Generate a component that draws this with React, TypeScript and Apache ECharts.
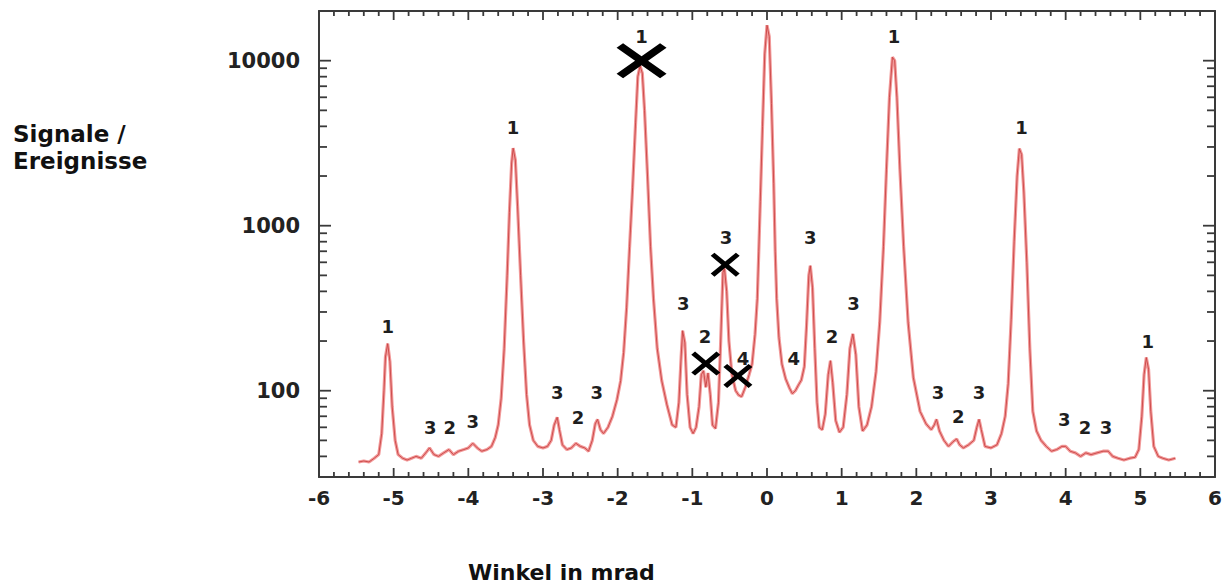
import React, { useEffect, useRef } from "react";
import * as echarts from "echarts";

// ---- data ----
const angleMrad = [
  -5.47, -5.4, -5.33, -5.26, -5.2, -5.16, -5.13, -5.11, -5.08, -5.05, -5.02, -4.98, -4.94, -4.88, -4.82, -4.76, -4.7,
  -4.63, -4.57, -4.52, -4.46, -4.4, -4.33, -4.26, -4.2, -4.13, -4.06, -4.0, -3.94, -3.88, -3.82, -3.75, -3.69, -3.64,
  -3.6, -3.56, -3.52, -3.48, -3.45, -3.42, -3.4, -3.37, -3.34, -3.3, -3.26, -3.22, -3.18, -3.13, -3.07, -3.0, -2.94,
  -2.89, -2.85, -2.81, -2.78, -2.74, -2.68, -2.62, -2.56, -2.5, -2.44, -2.39, -2.34, -2.3, -2.27, -2.23, -2.19, -2.13,
  -2.07, -2.01, -1.96, -1.92, -1.88, -1.84, -1.8, -1.76, -1.73, -1.7, -1.67, -1.64, -1.6, -1.56, -1.52, -1.47, -1.41,
  -1.34, -1.27, -1.22, -1.18, -1.15, -1.13, -1.1, -1.07, -1.03, -0.99, -0.95, -0.91, -0.88, -0.85, -0.82, -0.79, -0.76,
  -0.73, -0.69, -0.65, -0.62, -0.59, -0.57, -0.54, -0.51, -0.47, -0.42, -0.38, -0.34, -0.29, -0.24, -0.2, -0.16, -0.13,
  -0.11, -0.09, -0.06, -0.03, 0.0, 0.03, 0.06, 0.09, 0.11, 0.13, 0.16, 0.2, 0.25, 0.3, 0.34, 0.38, 0.42, 0.46, 0.5, 0.53,
  0.56, 0.58, 0.61, 0.64, 0.67, 0.7, 0.74, 0.78, 0.82, 0.85, 0.88, 0.92, 0.97, 1.02, 1.07, 1.11, 1.15, 1.19, 1.23, 1.28,
  1.34, 1.4, 1.46, 1.51, 1.56, 1.6, 1.64, 1.68, 1.71, 1.74, 1.78, 1.83, 1.89, 1.96, 2.05, 2.13, 2.2, 2.24, 2.27, 2.31,
  2.37, 2.43, 2.49, 2.54, 2.58, 2.63, 2.7, 2.77, 2.81, 2.84, 2.87, 2.92, 3.0, 3.08, 3.14, 3.19, 3.23, 3.27, 3.31, 3.35,
  3.38, 3.41, 3.44, 3.48, 3.52, 3.56, 3.61, 3.67, 3.74, 3.81, 3.88, 3.95, 4.0, 4.06, 4.13, 4.2, 4.27, 4.34, 4.42, 4.5,
  4.57, 4.63, 4.7, 4.78, 4.86, 4.93, 4.98, 5.02, 5.05, 5.08, 5.11, 5.14, 5.18, 5.24, 5.3, 5.38, 5.47,
];
const signal = [
  37, 37.5, 37, 39, 41, 55, 100, 160, 193, 150, 80, 50, 41, 39, 38, 39, 40,
  39, 42, 45, 41, 40, 42, 44, 41, 43, 44, 45, 48, 45, 43, 44, 46, 52,
  62, 90, 180, 500, 1200, 2400, 2950, 2500, 1300, 500, 200, 95, 62, 50, 46, 45, 46,
  50, 62, 69, 58, 47, 44, 45, 48, 46, 45, 43, 50, 63, 67, 58, 55, 60,
  70, 88, 115, 170, 320, 750, 1700, 4200, 8000, 9300, 8400, 5000, 2000, 750, 360, 180, 115,
  82, 62, 60, 85, 160, 231, 195, 95, 60, 55, 60, 80, 125, 132, 105, 128, 95,
  62, 59, 85, 200, 520, 550, 400, 200, 125, 100, 94, 92, 105, 125, 145, 220, 360,
  700, 1400, 4000, 11000, 16400, 14000, 5500, 1800, 700, 360, 210, 145, 118, 104, 96, 100, 108, 116, 140, 250,
  500, 572, 420, 180, 85, 60, 58, 72, 125, 152, 112, 66, 56, 60, 95, 180, 221, 165, 80, 57,
  62, 80, 130, 260, 750, 2200, 6000, 10500, 10000, 6000, 2200, 750, 260, 120, 75, 63, 58, 62, 67, 57,
  50, 46, 49, 51, 47, 45, 47, 50, 60, 67, 58, 46, 45, 47, 55, 70, 110, 270, 800, 2000,
  2930, 2700, 1600, 600, 180, 75, 57, 50, 46, 43, 44, 46, 46, 43, 42, 40, 42, 41, 42, 43,
  43, 40, 39, 38, 39, 39.5, 44, 70, 125, 159, 135, 75, 46, 40, 39, 38, 39,
];

// peak order labels
const peakLabelX = [-5.08, -4.51, -4.25, -3.94, -3.4, -2.81, -2.53, -2.28, -1.68, -1.12, -0.83, -0.55, -0.32, 0.36, 0.58, 0.87, 1.16, 1.7, 2.29, 2.56, 2.84, 3.41, 3.98, 4.26, 4.54, 5.1];
const peakLabelY = [245, 60, 60, 65, 3950, 97, 69, 97, 13970, 340, 212, 846, 156, 156, 846, 212, 337, 13970, 97, 70, 97, 3920, 67, 60, 60, 198];
const peakLabelText = ["1", "3", "2", "3", "1", "3", "2", "3", "1", "3", "2", "3", "4", "4", "3", "2", "3", "1", "3", "2", "3", "1", "3", "2", "3", "1"];

// crossed-out peaks
const crossX = [-1.68, -0.56, -0.82, -0.39];
const crossY = [10000, 580, 146, 123];

// axes
const xMin = -6;
const xMax = 6;
const xStep = 1;
const xMinorStep = 0.2;
const yMin = 30;
const yMax = 20000;
const yMajorTicks = [100, 1000, 10000];
const yMinorTicks = [40, 50, 60, 70, 80, 90, 200, 300, 400, 500, 600, 700, 800, 900, 2000, 3000, 4000, 5000, 6000, 7000, 8000, 9000];
const yAxisTitle = ["Signale /", "Ereignisse"];
const xAxisTitle = "Winkel in mrad";

const FONT = "DejaVu Sans";
const AXIS_COLOR = "#3a3a3a";
const CROSS_PATH =
  "path://M0,1.3 L1.3,0 L5,3.7 L8.7,0 L10,1.3 L6.3,5 L10,8.7 L8.7,10 L5,6.3 L1.3,10 L0,8.7 L3.7,5 Z";

export default function App() {
  const ref = useRef<HTMLDivElement>(null);

  useEffect(() => {
    if (!ref.current) return;
    const chart = echarts.init(ref.current, undefined, { renderer: "svg" });
    const curve = angleMrad.map((x, i) => [x, signal[i]]);
    const labels = peakLabelX.map((x, i) => [x, peakLabelY[i], peakLabelText[i]]);
    const crosses = crossX.map((x, i) => [x, crossY[i]]);

    // tick rows: [x, y, kind]  kind 0 = y major, 1 = y minor, 2 = x major, 3 = x minor
    const tickRows: number[][] = [];
    yMajorTicks.forEach((v) => tickRows.push([xMin, v, 0]));
    yMinorTicks.forEach((v) => tickRows.push([xMin, v, 1]));
    const nX = Math.round((xMax - xMin) / xMinorStep);
    for (let k = 1; k < nX; k++) {
      const v = Math.round((xMin + k * xMinorStep) * 10) / 10;
      const isMajor = Math.abs(v / xStep - Math.round(v / xStep)) < 1e-6;
      tickRows.push([v, yMin, isMajor ? 2 : 3]);
    }
    const tickLen = [12, 8, 9, 5];

    const xAxisBase = {
      type: "value",
      min: xMin,
      max: xMax,
      interval: xStep,
      splitLine: { show: false },
      axisLine: { show: true, onZero: false, lineStyle: { color: AXIS_COLOR, width: 2 } },
      axisTick: { show: false },
    };
    const yAxisBase = {
      type: "log",
      logBase: 10,
      min: yMin,
      max: yMax,
      splitLine: { show: false },
      axisLine: { show: true, onZero: false, lineStyle: { color: AXIS_COLOR, width: 2 } },
      axisTick: { show: false },
    };

    chart.setOption({
      animation: false,
      backgroundColor: "#fff",
      grid: { left: 319, right: 13, top: 11, bottom: 107, containLabel: false },
      xAxis: [
        {
          ...xAxisBase,
          position: "bottom",
          axisLabel: {
            show: true,
            margin: 11,
            fontFamily: FONT,
            fontWeight: "bold",
            fontSize: 20,
            color: "#222",
          },
        },
        { ...xAxisBase, position: "top", axisLabel: { show: false } },
      ],
      yAxis: [
        {
          ...yAxisBase,
          position: "left",
          axisLabel: {
            show: true,
            margin: 19,
            showMinLabel: false,
            showMaxLabel: false,
            fontFamily: FONT,
            fontWeight: "bold",
            fontSize: 21,
            color: "#222",
            formatter: (v: number) => String(Math.round(v)),
          },
        },
        { ...yAxisBase, position: "right", axisLabel: { show: false } },
      ],
      graphic: [
        ...yAxisTitle.map((t, i) => ({
          type: "text",
          left: 13,
          top: 122 + i * 27,
          style: { text: t, fontFamily: FONT, fontWeight: "bold", fontSize: 23, fill: "#111" },
        })),
        {
          type: "text",
          left: 468,
          top: 561,
          style: { text: xAxisTitle, fontFamily: FONT, fontWeight: "bold", fontSize: 22, fill: "#111" },
        },
      ],
      series: [
        {
          type: "custom",
          coordinateSystem: "cartesian2d",
          data: tickRows,
          encode: { x: 0, y: 1 },
          silent: true,
          clip: false,
          z: 6,
          renderItem: (_params: any, api: any) => {
            const kind = api.value(2);
            const len = tickLen[kind];
            const st = { stroke: AXIS_COLOR, lineWidth: 1.8 };
            if (kind <= 1) {
              const v = api.value(1);
              const a = api.coord([xMin, v]);
              const b = api.coord([xMax, v]);
              return {
                type: "group",
                children: [
                  { type: "line", shape: { x1: a[0], y1: a[1], x2: a[0] + len, y2: a[1] }, style: st },
                  { type: "line", shape: { x1: b[0] - len, y1: b[1], x2: b[0], y2: b[1] }, style: st },
                ],
              };
            }
            const x = api.value(0);
            const a = api.coord([x, yMin]);
            const b = api.coord([x, yMax]);
            return {
              type: "group",
              children: [
                { type: "line", shape: { x1: a[0], y1: a[1], x2: a[0], y2: a[1] - len }, style: st },
                { type: "line", shape: { x1: b[0], y1: b[1], x2: b[0], y2: b[1] + len }, style: st },
              ],
            };
          },
        },
        {
          type: "line",
          data: curve,
          showSymbol: false,
          symbol: "none",
          lineStyle: { color: "#f29a9a", width: 3.2 },
          z: 2,
        },
        {
          type: "line",
          data: curve,
          showSymbol: false,
          symbol: "none",
          lineStyle: { color: "#c84444", width: 0.9 },
          z: 3,
        },
        {
          type: "scatter",
          data: labels,
          symbol: "circle",
          symbolSize: 1,
          itemStyle: { color: "transparent", opacity: 1 },
          label: {
            show: true,
            position: "inside",
            formatter: (p: any) => p.data[2],
            fontFamily: FONT,
            fontWeight: "bold",
            fontSize: 18,
            color: "#1e1e1e",
          },
          clip: false,
          z: 4,
        },
        {
          type: "scatter",
          data: crosses,
          symbol: CROSS_PATH,
          symbolKeepAspect: false,
          symbolSize: (_v: any, p: any) => (p.dataIndex === 0 ? [50, 35] : [29, 24]),
          itemStyle: { color: "#000", opacity: 1 },
          clip: false,
          z: 5,
        },
      ],
    });

    return () => chart.dispose();
  }, []);

  return (
    <div
      ref={ref}
      style={{ position: "absolute", left: 0, top: 0, width: 1228, height: 584 }}
    />
  );
}
